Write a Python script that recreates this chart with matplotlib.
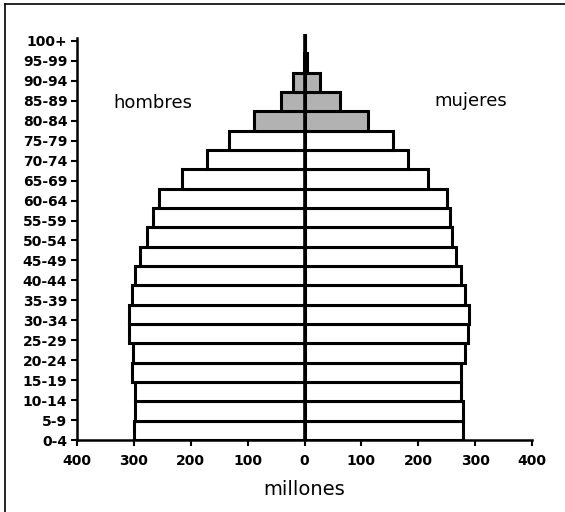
import numpy as np
import matplotlib
matplotlib.use('Agg')
import matplotlib.pyplot as plt
from matplotlib.lines import Line2D

# age groups, bottom to top
ages = ['0-4', '5-9', '10-14', '15-19', '20-24', '25-29', '30-34', '35-39',
        '40-44', '45-49', '50-54', '55-59', '60-64', '65-69', '70-74',
        '75-79', '80-84', '85-89', '90-94', '95-99', '100+']
# millones
hombres = [300, 298, 298, 303, 301, 309, 309, 303, 298, 289, 277, 267,
           256, 216, 172, 133, 88, 42, 21, 1, 0]
mujeres = [278, 278, 276, 276, 282, 288, 289, 282, 275, 266, 260, 256,
           250, 218, 182, 156, 112, 63, 28, 4, 0]
old_groups = ['80-84', '85-89', '90-94', '95-99', '100+']
xticks_vals = [-400, -300, -200, -100, 0, 100, 200, 300, 400]

gray = '#b2b2b2'
colors = [gray if a in old_groups else 'white' for a in ages]
y = np.arange(len(ages))

fig = plt.figure(figsize=(5.65, 5.12), dpi=100)
ax = fig.add_axes([77/565, 1-440/512, (532-77)/565, (440-34)/512])

ax.barh(y, [-v for v in hombres], height=1.0, color=colors,
        edgecolor='black', linewidth=2.2)
ax.barh(y, mujeres, height=1.0, color=colors,
        edgecolor='black', linewidth=2.2)
ax.axvline(0, color='black', linewidth=2.6, zorder=5)

ax.set_xlim(-400, 400)
ax.set_ylim(-0.5, len(ages) - 0.5)

# labels of the original are spread a bit wider than the bars
ax.set_yticks(np.linspace(-0.5, 20.14, len(ages)))
ax.set_yticklabels(ages, fontsize=10, fontweight='bold')
ax.set_xticks(xticks_vals)
ax.set_xticklabels([str(abs(v)) for v in xticks_vals], fontsize=10,
                   fontweight='bold')
ax.tick_params(axis='both', direction='out', length=4, width=1.5, pad=3)
ax.tick_params(axis='x', pad=6)

for s in ['top', 'right']:
    ax.spines[s].set_visible(False)
for s in ['left', 'bottom']:
    ax.spines[s].set_linewidth(1.8)
ax.spines['left'].set_bounds(-0.5, 20.3)

ax.set_xlabel('millones', fontsize=14, labelpad=9)
ax.text(-267, 16.95, 'hombres', fontsize=13, ha='center', va='center')
ax.text(292, 17.05, 'mujeres', fontsize=13, ha='center', va='center')

# outer frame lines (top and left only)
fig.add_artist(Line2D([5/565, 1], [1-4/512, 1-4/512], color='black', linewidth=1.2))
fig.add_artist(Line2D([5/565, 5/565], [0, 1-4/512], color='black', linewidth=1.2))

fig.savefig('out.png', dpi=100)
